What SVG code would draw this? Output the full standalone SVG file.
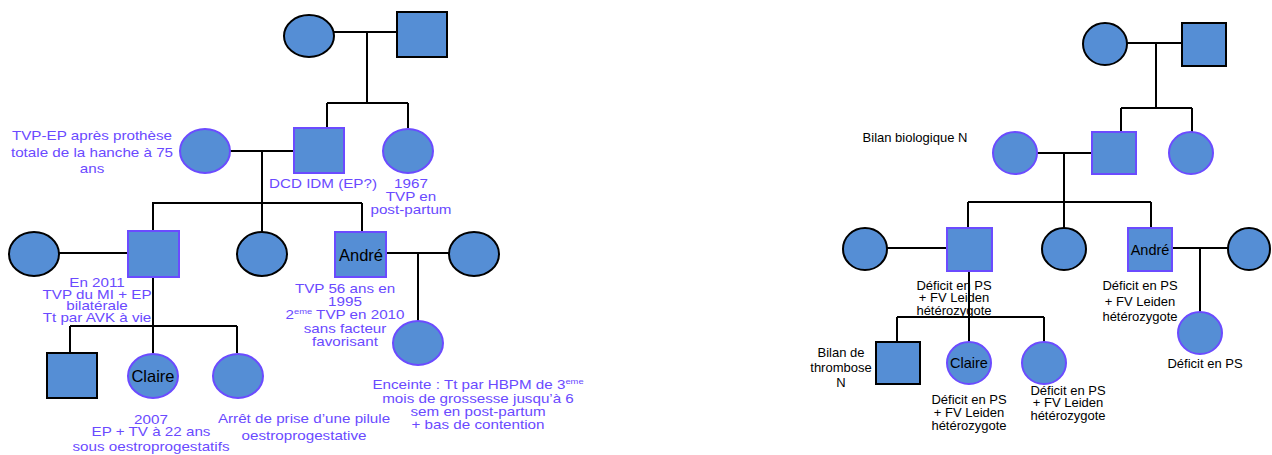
<svg xmlns="http://www.w3.org/2000/svg" width="1272" height="455" viewBox="0 0 1272 455">
<style>
.nb{fill:#558ed5;stroke:#000;stroke-width:2}
.np{fill:#558ed5;stroke:#6b4bff;stroke-width:2}
.ln{stroke:#000;stroke-width:2;fill:none}
.tp{font-family:"Liberation Sans",Arial,sans-serif;font-size:13px;fill:#6a4aff;text-anchor:middle}
.tk{font-family:"Liberation Sans",Arial,sans-serif;font-size:16.5px;fill:#000;text-anchor:middle}
.tr{font-family:"Liberation Sans",Arial,sans-serif;font-size:13px;fill:#000;text-anchor:middle}
.sup{font-size:8px}
</style>
<rect width="1272" height="455" fill="#fff"/>
<g id="connectors">
<path class="ln" d="M334 32H400M367 32V103M327 103H408M327 103V128M408 103V128"/>
<path class="ln" d="M230 151H294M262 151V203M152 203H362M153 203V232M262 203V232M362 203V232"/>
<path class="ln" d="M59 253H128M153 277V353M70 326H237M70 326V353M237 326V353"/>
<path class="ln" d="M386 253H449M418 253V321"/>
<path class="ln" d="M1127 43H1182M1156 43V108M1121 108H1192M1121 108V132M1192 108V132"/>
<path class="ln" d="M1037 153H1092M1064 153V202M968 202H1151M968 202V228M1064 202V228M1151 202V228"/>
<path class="ln" d="M887 248H947M969 271V342M897 317H1044M897 317V342M1044 317V342"/>
<path class="ln" d="M1172 248H1228M1200 248V312"/>
</g>
<!-- LEFT PEDIGREE -->
<g id="L-gf"><ellipse class="nb" cx="309" cy="36" rx="25" ry="21"/></g>
<g id="L-gm"><rect class="nb" x="397" y="12" width="50" height="45"/></g>
<g id="L-wife2"><ellipse class="np" cx="205" cy="151" rx="25" ry="22"/>
<g transform="translate(92 0) scale(1.17 1)">
<text class="tp" x="0" y="140">TVP-EP après prothèse</text>
<text class="tp" x="0" y="157">totale de la hanche à 75</text>
<text class="tp" x="0" y="173">ans</text></g></g>
<g id="L-father2"><rect class="np" x="294" y="128" width="50" height="45"/>
<text class="tp" transform="translate(323 0) scale(1.17 1)" x="0" y="188">DCD IDM (EP?)</text></g>
<g id="L-sister2"><ellipse class="np" cx="408" cy="151" rx="25" ry="22"/>
<g transform="translate(411 0) scale(1.17 1)">
<text class="tp" x="0" y="188">1967</text>
<text class="tp" x="0" y="201">TVP en</text>
<text class="tp" x="0" y="214">post-partum</text></g></g>
<g id="L-wife3"><ellipse class="nb" cx="34" cy="254" rx="25" ry="22"/></g>
<g id="L-father3"><rect class="np" x="128" y="231" width="51" height="46"/>
<g transform="translate(97 0) scale(1.17 1)">
<text class="tp" x="0" y="287">En 2011</text>
<text class="tp" x="0" y="299">TVP du MI + EP</text>
<text class="tp" x="0" y="310">bilatérale</text>
<text class="tp" x="0" y="322">Tt par AVK à vie</text></g></g>
<g id="L-aunt3"><ellipse class="nb" cx="262" cy="254" rx="25" ry="22"/></g>
<g id="L-andre"><rect class="np" x="335" y="232" width="51" height="45"/>
<text class="tk" x="361" y="261">André</text>
<g transform="translate(345 0) scale(1.17 1)">
<text class="tp" x="0" y="293">TVP 56 ans en</text>
<text class="tp" x="0" y="306">1995</text>
<text class="tp" x="0" y="319">2<tspan class="sup" dy="-5">eme</tspan><tspan dy="5"> TVP en 2010</tspan></text>
<text class="tp" x="0" y="333">sans facteur</text>
<text class="tp" x="0" y="346">favorisant</text></g></g>
<g id="L-andre-wife"><ellipse class="nb" cx="474" cy="254" rx="25" ry="22"/></g>
<g id="L-andre-daughter"><ellipse class="np" cx="418" cy="343" rx="25" ry="22"/>
<g transform="translate(478 0) scale(1.17 1)">
<text class="tp" x="0" y="389">Enceinte : Tt par HBPM de 3<tspan class="sup" dy="-5">eme</tspan></text>
<text class="tp" x="0" y="403">mois de grossesse jusqu’à 6</text>
<text class="tp" x="0" y="416">sem en post-partum</text>
<text class="tp" x="0" y="429">+ bas de contention</text></g></g>
<g id="L-son4"><rect class="nb" x="47" y="353" width="50" height="45"/></g>
<g id="L-claire"><ellipse class="np" cx="153" cy="376" rx="25" ry="22"/>
<text class="tk" x="153" y="382">Claire</text>
<g transform="translate(151 0) scale(1.17 1)">
<text class="tp" x="0" y="424">2007</text>
<text class="tp" x="0" y="436">EP + TV à 22 ans</text>
<text class="tp" x="0" y="451">sous oestroprogestatifs</text></g></g>
<g id="L-sister4"><ellipse class="np" cx="238" cy="376" rx="25" ry="22"/>
<g transform="translate(304 0) scale(1.17 1)">
<text class="tp" x="0" y="423">Arrêt de prise d’une pilule</text>
<text class="tp" x="0" y="440">oestroprogestative</text></g></g>
<!-- RIGHT PEDIGREE -->
<g id="R-gf"><ellipse class="nb" cx="1105" cy="44" rx="22" ry="21"/></g>
<g id="R-gm"><rect class="nb" x="1182" y="23" width="44" height="43"/></g>
<g id="R-wife2"><ellipse class="np" cx="1015" cy="153" rx="22" ry="21"/>
<text class="tr" x="915" y="142">Bilan biologique N</text></g>
<g id="R-father2"><rect class="np" x="1092" y="132" width="44" height="42"/></g>
<g id="R-sister2"><ellipse class="np" cx="1191" cy="153" rx="22" ry="21"/></g>
<g id="R-wife3"><ellipse class="nb" cx="865" cy="249" rx="22" ry="21"/></g>
<g id="R-father3"><rect class="np" x="947" y="228" width="45" height="43"/>
<text class="tr" x="954" y="290">Déficit en PS</text>
<text class="tr" x="954" y="302">+ FV Leiden</text>
<text class="tr" x="954" y="315">hétérozygote</text></g>
<g id="R-aunt3"><ellipse class="nb" cx="1064" cy="249" rx="22" ry="21"/></g>
<g id="R-andre"><rect class="np" x="1128" y="228" width="44" height="43"/>
<text class="tk" x="1150" y="255" style="font-size:14.5px">André</text>
<text class="tr" x="1140" y="290">Déficit en PS</text>
<text class="tr" x="1140" y="306">+ FV Leiden</text>
<text class="tr" x="1140" y="321">hétérozygote</text></g>
<g id="R-andre-wife"><ellipse class="nb" cx="1249" cy="249" rx="21" ry="21"/></g>
<g id="R-andre-daughter"><ellipse class="np" cx="1200" cy="333" rx="22" ry="21"/>
<text class="tr" x="1205" y="368">Déficit en PS</text></g>
<g id="R-son4"><rect class="nb" x="876" y="342" width="44" height="42"/>
<text class="tr" x="841" y="357">Bilan de</text>
<text class="tr" x="841" y="372">thrombose</text>
<text class="tr" x="841" y="387">N</text></g>
<g id="R-claire"><ellipse class="np" cx="969" cy="363" rx="22" ry="21"/>
<text class="tk" x="969" y="368" style="font-size:14.5px">Claire</text>
<text class="tr" x="969" y="404">Déficit en PS</text>
<text class="tr" x="969" y="417">+ FV Leiden</text>
<text class="tr" x="969" y="430">hétérozygote</text></g>
<g id="R-sister4"><ellipse class="np" cx="1044" cy="363" rx="22" ry="21"/>
<text class="tr" x="1068" y="395">Déficit en PS</text>
<text class="tr" x="1068" y="407">+ FV Leiden</text>
<text class="tr" x="1068" y="420">hétérozygote</text></g>
</svg>
